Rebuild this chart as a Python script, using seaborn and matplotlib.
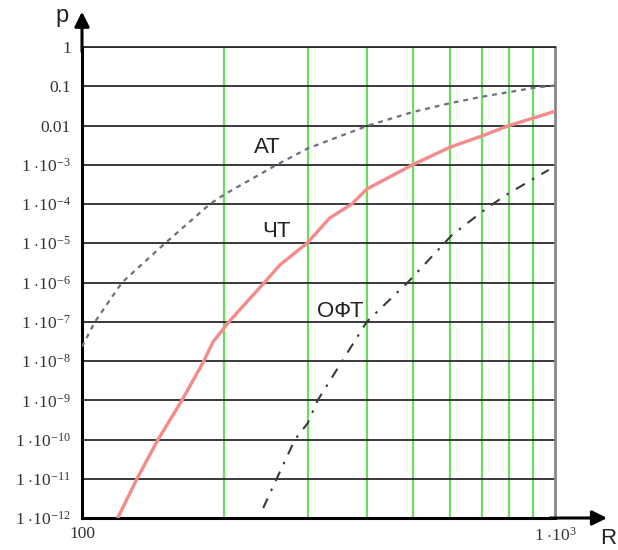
import numpy as np
import pandas as pd
import matplotlib
matplotlib.use("Agg")
import matplotlib.pyplot as plt
import seaborn as sns

# ---- data ----
at_R = [100, 106.5, 121.5, 149.8, 186.5, 200, 258, 300, 403, 500, 600, 700, 800, 900, 1000]
at_p = [2.3e-8, 1e-7, 1e-6, 1e-5, 1e-4, 1.75e-4, 1e-3, 2.6e-3, 1e-2, 2.2e-2, 3.7e-2, 5.4e-2, 7.1e-2, 9.1e-2, 1.05e-1]

ct_R = [119, 130.7, 144.8, 162.7, 181, 189, 204.5, 243, 262, 299, 334, 372, 400, 500, 600, 700, 800, 900, 1000]
ct_p = [1e-12, 1e-11, 1e-10, 1e-9, 1e-8, 3.0e-8, 1e-7, 1e-6, 2.8e-6, 1e-5, 4.4e-5, 1e-4, 2.4e-4, 1e-3, 2.8e-3, 5.4e-3, 1.0e-2, 1.55e-2, 2.3e-2]

oft_R = [241.6, 258, 282, 300, 315, 355, 400, 488, 605, 722, 800, 970]
oft_p = [1.8e-12, 1e-11, 1e-10, 2.6e-10, 1e-9, 1e-8, 1e-7, 1e-6, 1.6e-5, 8.3e-5, 1.9e-4, 7.4e-4]

y_ticks = [10.0 ** k for k in range(-12, 1)]
y_labels = [r"$1\ {\cdot}10^{-%d}$" % k for k in range(12, 2, -1)] + ["0.01", "0.1", "1"]
x_ticks = [100, 1000]
x_labels = ["100", r"$1\ {\cdot}10^{3}$"]
green_R = [200, 300, 400, 500, 600, 700, 800, 900]
curve_labels = [("АТ", 247, 10 ** -2.57), ("ЧТ", 258, 10 ** -4.71), ("ОФТ", 351, 10 ** -6.75)]

df_at = pd.DataFrame({"R": at_R, "p": at_p})
df_ct = pd.DataFrame({"R": ct_R, "p": ct_p})
df_oft = pd.DataFrame({"R": oft_R, "p": oft_p})

sns.set_style("white")
plt.rcParams["font.family"] = ["Liberation Sans", "DejaVu Sans"]
plt.rcParams["mathtext.fontset"] = "custom"
plt.rcParams["mathtext.rm"] = "Liberation Serif"
plt.rcParams["mathtext.it"] = "Liberation Serif:italic"

fig = plt.figure(figsize=(6.18, 5.5), dpi=100)
ax = fig.add_axes([82 / 618, 1 - 518 / 550, 473 / 618, 471 / 550])
ax.set_xscale("log")
ax.set_yscale("log")
ax.set_xlim(100, 1000)
ax.set_ylim(1e-12, 1)

# grid
for r in green_R:
    ax.axvline(r, color="#66e05a", lw=1.6, zorder=1)
for t in y_ticks:
    ax.axhline(t, color="#2a2a2a", lw=1.3, zorder=1)

sns.lineplot(data=df_at, x="R", y="p", ax=ax, sort=False, estimator=None,
             color="#6e7080", lw=1.6, linestyle=(0, (2.2, 2.2)), zorder=3)
sns.lineplot(data=df_ct, x="R", y="p", ax=ax, sort=False, estimator=None,
             color="#f58a8a", lw=2.4, zorder=3)
sns.lineplot(data=df_oft, x="R", y="p", ax=ax, sort=False, estimator=None,
             color="#3a3a3a", lw=1.5, linestyle=(0, (5, 4, 1.2, 4)), zorder=3)

for txt, xr, yp in curve_labels:
    ax.text(xr, yp, txt, fontsize=16, ha="center", va="center", color="#222222", zorder=4)

ax.set_xticks(x_ticks)
ax.set_xticklabels(x_labels)
ax.xaxis.set_minor_locator(matplotlib.ticker.NullLocator())
ax.set_yticks(y_ticks)
ax.set_yticklabels(y_labels)
ax.yaxis.set_minor_locator(matplotlib.ticker.NullLocator())
ax.tick_params(axis="both", length=0, labelsize=12.5, colors="#333333")
ax.tick_params(axis="y", pad=8)
ax.tick_params(axis="x", pad=6)
for lab in ax.get_yticklabels() + ax.get_xticklabels():
    lab.set_fontfamily("Liberation Serif")
ax.set_xlabel("")
ax.set_ylabel("")

ax.spines["left"].set_color("black")
ax.spines["left"].set_linewidth(2.2)
ax.spines["bottom"].set_color("black")
ax.spines["bottom"].set_linewidth(2.2)
ax.spines["right"].set_color("#888888")
ax.spines["right"].set_linewidth(2)
ax.spines["top"].set_color("#2a2a2a")
ax.spines["top"].set_linewidth(1.3)

# axis arrows
ax.annotate("", xy=(0, 1.075), xytext=(0, 0.99), xycoords="axes fraction",
            arrowprops=dict(arrowstyle="-|>", color="black", lw=2.2, mutation_scale=22,
                            shrinkA=0, shrinkB=0), annotation_clip=False)
ax.annotate("", xy=(1.11, 0), xytext=(0.99, 0), xycoords="axes fraction",
            arrowprops=dict(arrowstyle="-|>", color="black", lw=2.2, mutation_scale=22,
                            shrinkA=0, shrinkB=0), annotation_clip=False)

fig.text(62 / 618, 1 - 16 / 550, "p", fontsize=17, ha="center", va="center", color="#222222")
fig.text(608 / 618, 1 - 538 / 550, "R", fontsize=16, ha="center", va="center", color="#222222")

fig.savefig("out.png", dpi=100)
